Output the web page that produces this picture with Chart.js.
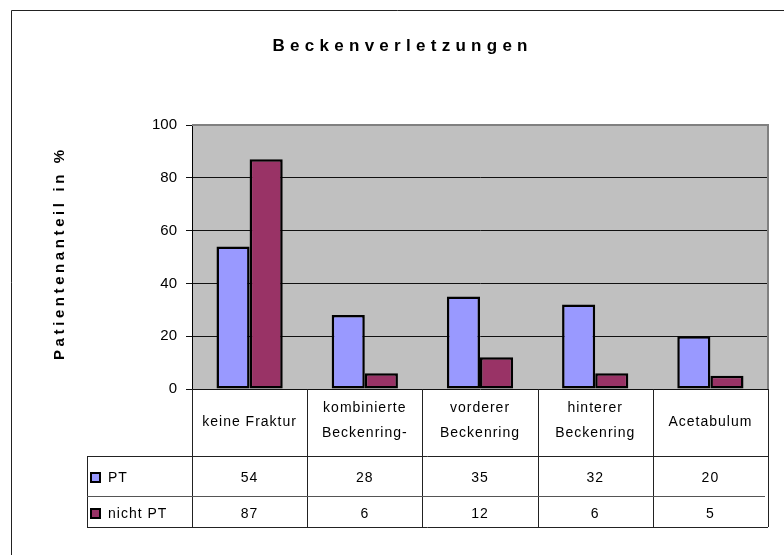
<!DOCTYPE html>
<html>
<head>
<meta charset="utf-8">
<script src="https://cdn.jsdelivr.net/npm/chart.js@4"></script>
<style>
  html, body { margin: 0; padding: 0; background: #fff; }
  canvas { display: block; }
</style>
</head>
<body>
<canvas id="chart" width="784" height="555"></canvas>
<script>
const chartTitle = "Beckenverletzungen";
const yTitle = "Patientenanteil in %";
const categories = [["keine Fraktur"], ["kombinierte", "Beckenring-"], ["vorderer", "Beckenring"], ["hinterer", "Beckenring"], ["Acetabulum"]];
const seriesNames = ["PT", "nicht PT"];
const ptValues = [54, 28, 35, 32, 20];
const nichtPtValues = [87, 6, 12, 6, 5];
const yMin = 0;
const yMax = 100;
const yStep = 20;

const FONT = "'Liberation Sans', Arial, sans-serif";
const colors = ["#9999FF", "#993366"];

// fit text to a given width by spreading the letters
function spacedText(ctx, text, cx, cy, width) {
  ctx.letterSpacing = "0px";
  const plain = ctx.measureText(text).width;
  const sp = (width - plain) / (text.length - 1);
  ctx.letterSpacing = sp + "px";
  ctx.fillText(text, cx + sp / 2, cy);
  ctx.letterSpacing = "0px";
}

// grey plot background + frame, title, data table below the axis
const excelLook = {
  id: "excelLook",
  beforeDraw(chart) {
    const { ctx, chartArea: a } = chart;
    ctx.save();
    ctx.fillStyle = "#C0C0C0";
    ctx.fillRect(a.left, a.top, a.right - a.left, a.bottom - a.top);
    ctx.restore();
  },
  afterDraw(chart) {
    const { ctx, chartArea: a, scales: { x } } = chart;
    const n = categories.length;
    const w = (a.right - a.left) / n;
    ctx.save();

    // outer frame
    ctx.strokeStyle = "#222";
    ctx.lineWidth = 1;
    ctx.beginPath();
    ctx.moveTo(11.5, 555);
    ctx.lineTo(11.5, 10.5);
    ctx.lineTo(784, 10.5);
    ctx.stroke();

    // plot area top/right edge
    ctx.strokeStyle = "#808080";
    ctx.lineWidth = 2;
    ctx.beginPath();
    ctx.moveTo(a.left, a.top);
    ctx.lineTo(a.right, a.top);
    ctx.lineTo(a.right, a.bottom);
    ctx.stroke();

    // title
    ctx.fillStyle = "#000";
    ctx.textAlign = "center";
    ctx.textBaseline = "middle";
    ctx.font = "bold 17px " + FONT;
    spacedText(ctx, chartTitle, 400, 46, 255);

    // y axis title
    ctx.save();
    ctx.translate(60, 255);
    ctx.rotate(-Math.PI / 2);
    ctx.font = "900 15px " + FONT;
    spacedText(ctx, yTitle, 0, 0, 210);
    ctx.restore();

    // data table
    const r0 = a.bottom, r1 = 456, r2 = 496, r3 = 527, tl = 87;
    ctx.strokeStyle = "#222";
    ctx.lineWidth = 1;
    ctx.beginPath();
    for (let i = 0; i <= n; i++) {
      const px = Math.round(a.left + i * w) + 0.5;
      ctx.moveTo(px, r0);
      ctx.lineTo(px, r3);
    }
    ctx.moveTo(tl + 0.5, r1);
    ctx.lineTo(tl + 0.5, r3);
    ctx.moveTo(tl, r1 + 0.5);
    ctx.lineTo(a.right, r1 + 0.5);
    ctx.moveTo(tl, r3 + 0.5);
    ctx.lineTo(a.right, r3 + 0.5);
    ctx.stroke();
    ctx.strokeStyle = "#555";
    ctx.beginPath();
    ctx.moveTo(tl, r2 + 0.5);
    ctx.lineTo(a.right - 3, r2 + 0.5);
    ctx.stroke();

    ctx.font = "14px " + FONT;
    ctx.letterSpacing = "1px";
    categories.forEach((lines, i) => {
      const cx = x.getPixelForValue(i);
      if (lines.length === 1) {
        ctx.fillText(lines[0], cx, 422);
      } else {
        ctx.fillText(lines[0], cx, 408);
        ctx.fillText(lines[1], cx, 433);
      }
      ctx.fillText(String(ptValues[i]), cx, 478);
      ctx.fillText(String(nichtPtValues[i]), cx, 514);
    });

    // legend keys
    const rowY = [478, 514];
    ctx.textAlign = "left";
    seriesNames.forEach((name, i) => {
      ctx.fillStyle = colors[i];
      ctx.fillRect(91, rowY[i] - 5, 9, 9);
      ctx.strokeStyle = "#000";
      ctx.lineWidth = 2;
      ctx.strokeRect(91, rowY[i] - 5, 9, 9);
      ctx.fillStyle = "#000";
      ctx.fillText(name, 108, rowY[i]);
    });
    ctx.restore();
  }
};

new Chart(document.getElementById("chart"), {
  type: "bar",
  data: {
    labels: categories.map(c => c.join(" ")),
    datasets: [
      { label: seriesNames[0], data: ptValues, backgroundColor: colors[0] },
      { label: seriesNames[1], data: nichtPtValues, backgroundColor: colors[1] }
    ]
  },
  options: {
    responsive: false,
    animation: false,
    layout: { padding: { left: 0, top: 125, right: 16, bottom: 166 } },
    datasets: {
      bar: {
        borderColor: "#000",
        borderWidth: 2.5,
        borderSkipped: false,
        categoryPercentage: 0.575,
        barPercentage: 1
      }
    },
    plugins: {
      legend: { display: false },
      title: { display: false },
      tooltip: { enabled: false }
    },
    scales: {
      x: {
        grid: { display: false },
        ticks: { display: false },
        border: { display: false },
        afterFit(s) { s.height = 0; }
      },
      y: {
        min: yMin,
        max: yMax,
        ticks: {
          stepSize: yStep,
          padding: 9,
          color: "#000",
          font: { family: FONT, size: 15 }
        },
        grid: {
          color: c => (c.tick && c.tick.value === yMax ? "#808080" : "#111"),
          lineWidth: 1,
          tickLength: 6,
          tickColor: "#111"
        },
        border: { color: "#000", width: 1 },
        afterFit(s) { s.width = 192; }
      }
    }
  },
  plugins: [excelLook]
});
</script>
</body>
</html>
